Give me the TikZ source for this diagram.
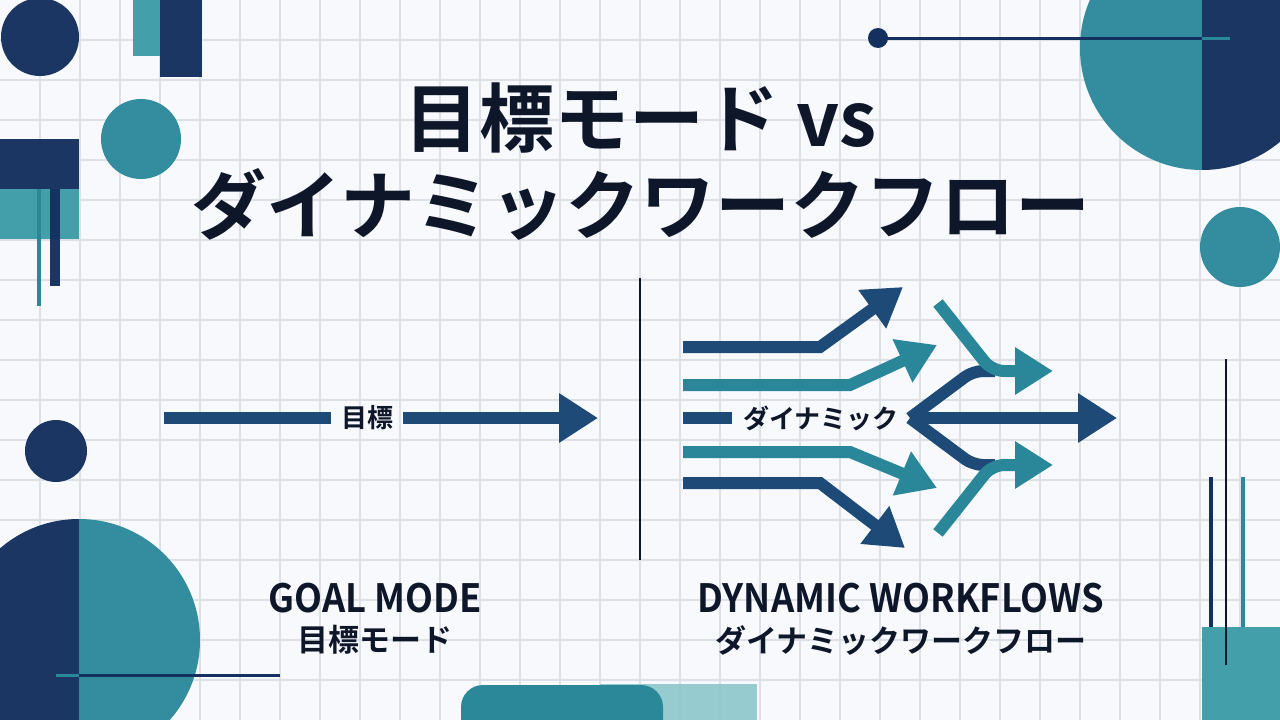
\documentclass[tikz,border=0pt]{standalone}
\usepackage{fontspec}
\setmainfont{Noto Sans CJK JP}[BoldFont=* Bold]
\newfontfamily\capfont{Noto Sans CJK JP}[BoldFont=* Bold, FakeStretch=0.93]
\usetikzlibrary{arrows.meta, positioning}
\definecolor{pageBg}{HTML}{F7F9FC}
\definecolor{gridGray}{HTML}{DDE1E7}
\definecolor{decoNavy}{HTML}{14305E}
\definecolor{decoTeal}{HTML}{2A8899}
\definecolor{decoTealLight}{HTML}{3A9BA6}
\definecolor{decoTealPale}{HTML}{8CC6CB}
\definecolor{flowNavy}{HTML}{1D4A77}
\definecolor{flowTeal}{HTML}{2A8799}
\definecolor{inkDark}{HTML}{0E1629}

\begin{document}
\begin{tikzpicture}[x=1pt, y=-1pt,
    node distance=12pt,
    gridline/.style={draw=gridGray, line width=1.4pt},
    navyshape/.style={fill=decoNavy, fill opacity=0.97},
    tealshape/.style={fill=decoTeal, fill opacity=0.95},
    lighttealshape/.style={fill=decoTealLight, fill opacity=0.95},
    thinrule/.style={line width=3pt},
    flow/.style={line width=12pt},
    navyflow/.style={flow, draw=flowNavy},
    tealflow/.style={flow, draw=flowTeal},
    flowtip/.style={-{Triangle[length=38pt, width=45pt]}},
    bigtip/.style={-{Triangle[length=39pt, width=47pt]}},
    titletext/.style={font=\bfseries\fontsize{75}{80}\selectfont, text=inkDark, inner sep=0pt},
    flowlabel/.style={font=\bfseries\fontsize{26}{28}\selectfont, text=inkDark, inner sep=10pt},
    entext/.style={font=\capfont\bfseries\fontsize{39}{44}\selectfont, text=inkDark, inner sep=0pt},
    jptext/.style={font=\bfseries\fontsize{31}{33}\selectfont, text=inkDark, inner sep=0pt},
  ]
  % page and grid
  \useasboundingbox[fill=pageBg] (0,0) rectangle (1280,720);
  \foreach \gx in {40,80,...,1240}
    \draw[gridline] (\gx,0) -- (\gx,720);
  \foreach \gy in {40,80,...,680}
    \draw[gridline] (0,\gy) -- (1280,\gy);

  % decoration top left
  \fill[navyshape] (40,37) circle[radius=39pt];
  \fill[lighttealshape] (133,0) rectangle (160,56);
  \fill[navyshape] (160,0) rectangle (202,77);
  \fill[tealshape] (141,139) circle[radius=40pt];
  \fill[navyshape] (0,139) rectangle (79,189);
  \fill[lighttealshape] (0,189) rectangle (79,239);
  \fill[navyshape] (50,189) rectangle (60,286);
  \draw[decoTeal, line width=4pt] (39,189) -- (39,306);
  \fill[navyshape] (56,451) circle[radius=31pt];

  % decoration top right
  \begin{scope}
    \clip (1202,48) circle[radius=122pt];
    \fill[tealshape] (1070,-80) rectangle (1202,180);
    \fill[navyshape] (1202,-80) rectangle (1340,180);
  \end{scope}
  \fill[decoNavy] (878,38) circle[radius=10pt];
  \draw[thinrule, decoNavy] (878,38) -- (1202,38);
  \draw[thinrule, decoTeal] (1202,38) -- (1230,38);
  \fill[tealshape] (1240,247) circle[radius=40pt];

  % decoration bottom left
  \begin{scope}
    \clip (79,640) circle[radius=121pt];
    \fill[navyshape] (-50,500) rectangle (79,780);
    \fill[tealshape] (79,500) rectangle (210,780);
  \end{scope}
  \draw[thinrule, decoTeal] (56,675) -- (79,675);
  \draw[thinrule, decoNavy] (79,675) -- (280,675);

  % decoration bottom
  \fill[decoTealPale, fill opacity=0.9] (600,684) rectangle (757,730);
  \fill[decoTeal, rounded corners=22pt] (461,685) rectangle (663,750);

  % decoration bottom right
  \fill[lighttealshape] (1202,627) rectangle (1290,730);
  \draw[decoNavy, line width=4pt] (1211,477) -- (1211,627);
  \draw[decoTeal, line width=4pt] (1243,477) -- (1243,627);
  \draw[inkDark, line width=2.5pt] (1226,359) -- (1226,665);

  % title
  \node[titletext] (title1) at (641,118) {目標モード vs};
  \node[titletext, below=15pt of title1] (title2) {ダイナミックワークフロー};

  % divider
  \coordinate (divTop) at (640,278);
  \coordinate (divBot) at (640,560);
  \draw[inkDark, line width=2.5pt] (divTop) -- (divBot);

  % goal mode
  \coordinate (goalStart) at (164,418);
  \coordinate (goalEnd) at (598,418);
  \node[flowlabel] (goalLbl) at (367,418) {目標};
  \draw[navyflow] (goalStart) -- (goalLbl);
  \draw[navyflow, bigtip] (goalLbl) -- (goalEnd);

  % dynamic workflows: incoming
  \node[flowlabel, inner sep=11pt] (dynLbl) at (821,418) {ダイナミック};
  \coordinate (dynStart) at (683,418);
  \coordinate (f1s) at (683,347);
  \coordinate (f1e) at (903,287);
  \coordinate (f2s) at (683,385);
  \coordinate (f2e) at (937,345);
  \coordinate (f4s) at (683,452);
  \coordinate (f4e) at (937,488);
  \coordinate (f5s) at (683,483);
  \coordinate (f5e) at (905,548);
  \draw[navyflow] (dynStart) -- (dynLbl);
  \draw[navyflow, flowtip] (f1s) -- (820,347) -- (f1e);
  \draw[tealflow, flowtip] (f2s) -- (850,385) -- (f2e);
  \draw[tealflow, flowtip] (f4s) -- (850,452) -- (f4e);
  \draw[navyflow, flowtip] (f5s) -- (820,483) -- (f5e);

  % dynamic workflows: outgoing fan
  \coordinate (fanEnd) at (1117,418);
  \coordinate (upS) at (938,303);
  \coordinate (upE) at (1053,371);
  \coordinate (loS) at (938,533);
  \coordinate (loE) at (1053,465);
  \draw[navyflow, rounded corners=10pt] (dynLbl.east) -- (973,371) -- (995,371);
  \draw[navyflow, rounded corners=10pt] (dynLbl.east) -- (973,465) -- (995,465);
  \draw[tealflow, flowtip, rounded corners=12pt] (upS) -- (992,371) -- (upE);
  \draw[tealflow, flowtip, rounded corners=12pt] (loS) -- (992,465) -- (loE);
  \draw[navyflow, bigtip] (dynLbl.east) -- (fanEnd);

  % captions
  \node[entext] (goalEn) at (375,598) {GOAL MODE};
  \node[jptext, below=of goalEn] (goalJp) {目標モード};
  \node[entext] (dynEn) at (901,598) {DYNAMIC WORKFLOWS};
  \node[jptext, below=of dynEn] (dynJp) {ダイナミックワークフロー};
\end{tikzpicture}
\end{document}
